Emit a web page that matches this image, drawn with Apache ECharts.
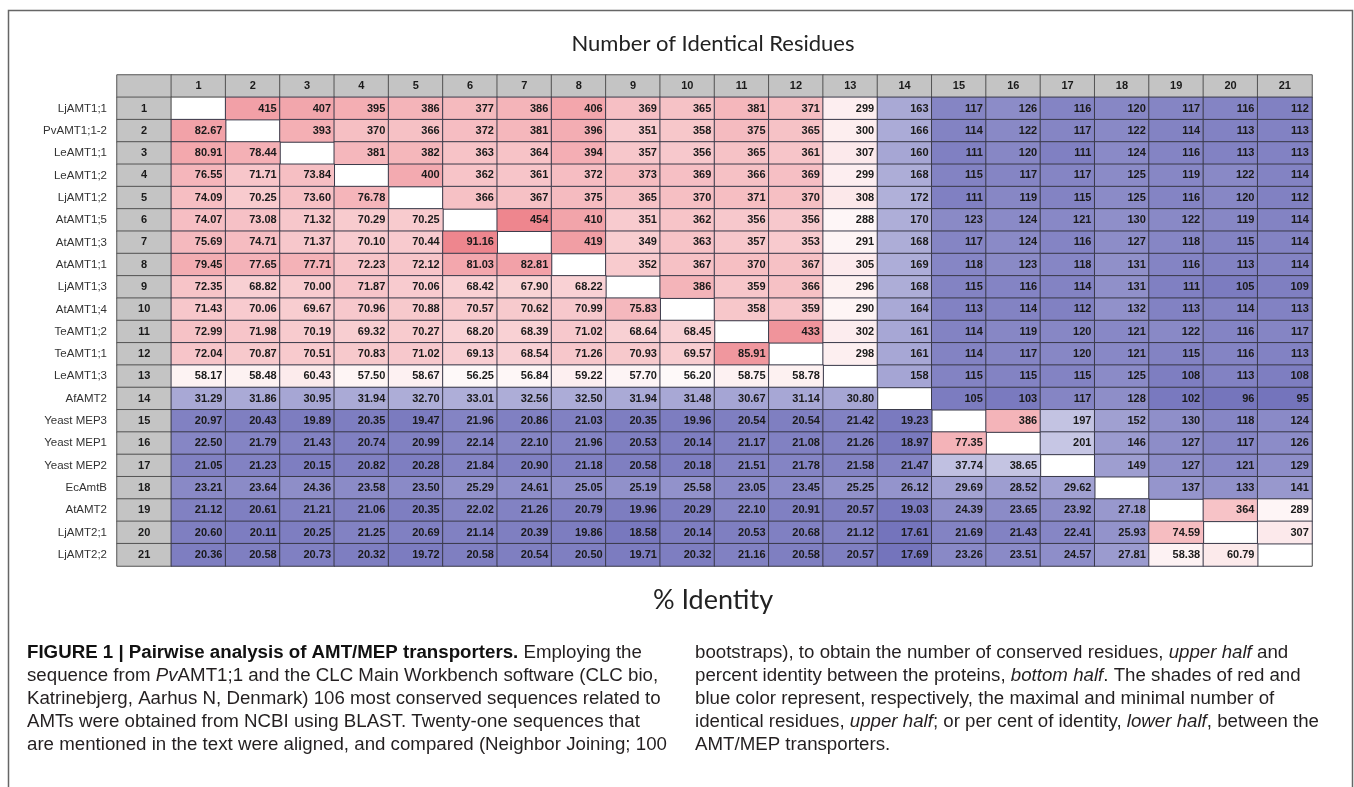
<!DOCTYPE html>
<html>
<head>
<meta charset="utf-8">
<title>Number of Identical Residues</title>
<script src="https://cdn.jsdelivr.net/npm/echarts@6/dist/echarts.min.js"></script>
<style>
  html, body { margin: 0; padding: 0; background: #fff; }
  #chart { width: 1354px; height: 787px; }
</style>
</head>
<body>
<div id="chart"></div>
<script>
// sequence names, top to bottom
const proteins = [
  'LjAMT1;1', 'PvAMT1;1-2', 'LeAMT1;1', 'LeAMT1;2', 'LjAMT1;2', 'AtAMT1;5', 'AtAMT1;3',
  'AtAMT1;1', 'LjAMT1;3', 'AtAMT1;4', 'TeAMT1;2', 'TeAMT1;1', 'LeAMT1;3', 'AfAMT2',
  'Yeast MEP3', 'Yeast MEP1', 'Yeast MEP2', 'EcAmtB', 'AtAMT2', 'LjAMT2;1', 'LjAMT2;2'
]
const indexLabels = ['1', '2', '3', '4', '5', '6', '7', '8', '9', '10', '11',
  '12', '13', '14', '15', '16', '17', '18', '19', '20', '21']

// upper half = number of identical residues, lower half = % identity
const table = [
  [null, 415, 407, 395, 386, 377, 386, 406, 369, 365, 381, 371, 299, 163, 117, 126, 116, 120, 117, 116, 112],
  [82.67, null, 393, 370, 366, 372, 381, 396, 351, 358, 375, 365, 300, 166, 114, 122, 117, 122, 114, 113, 113],
  [80.91, 78.44, null, 381, 382, 363, 364, 394, 357, 356, 365, 361, 307, 160, 111, 120, 111, 124, 116, 113, 113],
  [76.55, 71.71, 73.84, null, 400, 362, 361, 372, 373, 369, 366, 369, 299, 168, 115, 117, 117, 125, 119, 122, 114],
  [74.09, 70.25, 73.60, 76.78, null, 366, 367, 375, 365, 370, 371, 370, 308, 172, 111, 119, 115, 125, 116, 120, 112],
  [74.07, 73.08, 71.32, 70.29, 70.25, null, 454, 410, 351, 362, 356, 356, 288, 170, 123, 124, 121, 130, 122, 119, 114],
  [75.69, 74.71, 71.37, 70.10, 70.44, 91.16, null, 419, 349, 363, 357, 353, 291, 168, 117, 124, 116, 127, 118, 115, 114],
  [79.45, 77.65, 77.71, 72.23, 72.12, 81.03, 82.81, null, 352, 367, 370, 367, 305, 169, 118, 123, 118, 131, 116, 113, 114],
  [72.35, 68.82, 70.00, 71.87, 70.06, 68.42, 67.90, 68.22, null, 386, 359, 366, 296, 168, 115, 116, 114, 131, 111, 105, 109],
  [71.43, 70.06, 69.67, 70.96, 70.88, 70.57, 70.62, 70.99, 75.83, null, 358, 359, 290, 164, 113, 114, 112, 132, 113, 114, 113],
  [72.99, 71.98, 70.19, 69.32, 70.27, 68.20, 68.39, 71.02, 68.64, 68.45, null, 433, 302, 161, 114, 119, 120, 121, 122, 116, 117],
  [72.04, 70.87, 70.51, 70.83, 71.02, 69.13, 68.54, 71.26, 70.93, 69.57, 85.91, null, 298, 161, 114, 117, 120, 121, 115, 116, 113],
  [58.17, 58.48, 60.43, 57.50, 58.67, 56.25, 56.84, 59.22, 57.70, 56.20, 58.75, 58.78, null, 158, 115, 115, 115, 125, 108, 113, 108],
  [31.29, 31.86, 30.95, 31.94, 32.70, 33.01, 32.56, 32.50, 31.94, 31.48, 30.67, 31.14, 30.80, null, 105, 103, 117, 128, 102, 96, 95],
  [20.97, 20.43, 19.89, 20.35, 19.47, 21.96, 20.86, 21.03, 20.35, 19.96, 20.54, 20.54, 21.42, 19.23, null, 386, 197, 152, 130, 118, 124],
  [22.50, 21.79, 21.43, 20.74, 20.99, 22.14, 22.10, 21.96, 20.53, 20.14, 21.17, 21.08, 21.26, 18.97, 77.35, null, 201, 146, 127, 117, 126],
  [21.05, 21.23, 20.15, 20.82, 20.28, 21.84, 20.90, 21.18, 20.58, 20.18, 21.51, 21.78, 21.58, 21.47, 37.74, 38.65, null, 149, 127, 121, 129],
  [23.21, 23.64, 24.36, 23.58, 23.50, 25.29, 24.61, 25.05, 25.19, 25.58, 23.05, 23.45, 25.25, 26.12, 29.69, 28.52, 29.62, null, 137, 133, 141],
  [21.12, 20.61, 21.21, 21.06, 20.35, 22.02, 21.26, 20.79, 19.96, 20.29, 22.10, 20.91, 20.57, 19.03, 24.39, 23.65, 23.92, 27.18, null, 364, 289],
  [20.60, 20.11, 20.25, 21.25, 20.69, 21.14, 20.39, 19.86, 18.58, 20.14, 20.53, 20.68, 21.12, 17.61, 21.69, 21.43, 22.41, 25.93, 74.59, null, 307],
  [20.36, 20.58, 20.73, 20.32, 19.72, 20.58, 20.54, 20.50, 19.71, 20.32, 21.16, 20.58, 20.57, 17.69, 23.26, 23.51, 24.57, 27.81, 58.38, 60.79, null]
]

const captionLeft = [
  '{b|FIGURE 1 | Pairwise analysis of AMT/MEP transporters.} Employing the',
  'sequence from {i|Pv}AMT1;1 and the CLC Main Workbench software (CLC bio,',
  'Katrinebjerg, Aarhus N, Denmark) 106 most conserved sequences related to',
  'AMTs were obtained from NCBI using BLAST. Twenty-one sequences that',
  'are mentioned in the text were aligned, and compared (Neighbor Joining; 100'
]
const captionRight = [
  'bootstraps), to obtain the number of conserved residues, {i|upper half} and',
  'percent identity between the proteins, {i|bottom half}. The shades of red and',
  'blue color represent, respectively, the maximal and minimal number of',
  'identical residues, {i|upper half}; or per cent of identity, {i|lower half}, between the',
  'AMT/MEP transporters.'
]

// split the matrix into the two halves + the empty diagonal
const headerCells = [[0, 0, 0]]
const countCells = []
const percentCells = []
const blankCells = []
indexLabels.forEach((lab, k) => {
  headerCells.push([k + 1, 0, lab])
  headerCells.push([0, k + 1, lab])
})
table.forEach((row, i) => {
  row.forEach((v, j) => {
    if (v === null) blankCells.push([j + 1, i + 1, 0])
    else if (j > i) countCells.push([j + 1, i + 1, v])
    else percentCells.push([j + 1, i + 1, v])
  })
})

const chart = echarts.init(document.getElementById('chart'))

const cellFont = {
  fontFamily: 'Liberation Sans',
  fontSize: 11,
  fontWeight: 'bold',
  color: '#1a1a1a'
}
const capFont = { fontFamily: 'Liberation Sans', fontSize: 18.7 }

function captionLines (lines, x) {
  return lines.map((t, k) => ({
    type: 'text',
    left: x,
    top: 643 + k * 23,
    style: {
      text: t,
      fill: '#231f20',
      ...capFont,
      rich: {
        b: { ...capFont, fontWeight: 'bold', fill: '#111' },
        i: { ...capFont, fontStyle: 'italic', fill: '#231f20' }
      }
    }
  }))
}

const option = {
  animation: false,
  grid: { left: 117, top: 75, width: 1195, height: 491 },
  xAxis: {
    type: 'category',
    data: [''].concat(indexLabels),
    show: false
  },
  yAxis: {
    type: 'category',
    data: [''].concat(proteins),
    inverse: true,
    axisLine: { show: false },
    axisTick: { show: false },
    splitLine: { show: false },
    axisLabel: {
      margin: 10,
      fontFamily: 'Liberation Sans',
      fontSize: 11.5,
      color: '#333'
    }
  },
  visualMap: [
    {
      show: false,
      seriesIndex: 2,
      dimension: 2,
      min: 95,
      max: 454,
      inRange: { color: ['#7474bc', '#ffffff', '#ee868e'] }
    },
    {
      show: false,
      seriesIndex: 3,
      dimension: 2,
      min: 17.61,
      max: 91.16,
      inRange: { color: ['#7474bc', '#ffffff', '#ee868e'] }
    }
  ],
  series: [
    {
      name: 'header',
      type: 'heatmap',
      data: headerCells,
      itemStyle: { color: '#c4c4c4', borderColor: '#555', borderWidth: 1 },
      label: {
        show: true,
        ...cellFont,
        formatter: p => p.value[2] === 0 ? '' : p.value[2]
      },
      emphasis: { disabled: true }
    },
    {
      name: 'diagonal',
      type: 'heatmap',
      data: blankCells,
      itemStyle: { color: '#ffffff', borderColor: '#444', borderWidth: 1 },
      emphasis: { disabled: true }
    },
    {
      name: 'Number of Identical Residues',
      type: 'heatmap',
      data: countCells,
      itemStyle: { borderColor: '#3a3a4a', borderWidth: 1 },
      label: {
        show: true,
        position: 'insideRight',
        distance: 4,
        ...cellFont,
        formatter: p => p.value[2]
      },
      emphasis: { disabled: true }
    },
    {
      name: '% Identity',
      type: 'heatmap',
      data: percentCells,
      itemStyle: { borderColor: '#3a3a4a', borderWidth: 1 },
      label: {
        show: true,
        position: 'insideRight',
        distance: 4,
        ...cellFont,
        formatter: p => p.value[2].toFixed(2)
      },
      emphasis: { disabled: true }
    }
  ],
  graphic: [
    {
      type: 'rect',
      silent: true,
      shape: { x: 8.5, y: 10.5, width: 1344, height: 800 },
      style: { fill: 'none', stroke: '#666', lineWidth: 1.5 }
    },
    {
      type: 'text',
      x: 713,
      y: 44,
      style: {
        text: 'Number of Identical Residues',
        fontFamily: 'Lato',
        fontSize: 22,
        fill: '#222',
        align: 'center',
        verticalAlign: 'middle'
      }
    },
    {
      type: 'text',
      x: 713,
      y: 600,
      style: {
        text: '% Identity',
        fontFamily: 'Lato',
        fontSize: 27,
        fill: '#222',
        align: 'center',
        verticalAlign: 'middle'
      }
    }
  ].concat(captionLines(captionLeft, 27), captionLines(captionRight, 695))
}

chart.setOption(option)
</script>
</body>
</html>
